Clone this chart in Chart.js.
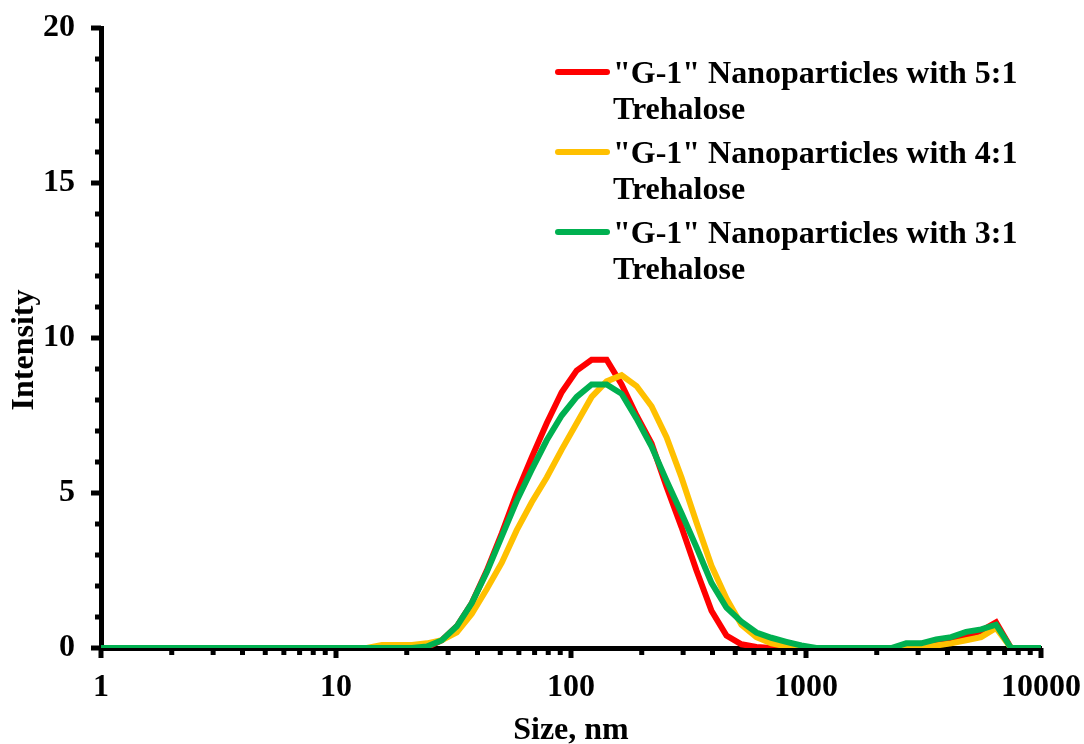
<!DOCTYPE html>
<html>
<head>
<meta charset="utf-8">
<script src="https://cdn.jsdelivr.net/npm/chart.js@4/dist/chart.umd.min.js"></script>
<style>
  html, body { margin: 0; padding: 0; background: #fff; }
  #wrap { position: relative; width: 1084px; height: 744px; overflow: hidden; }
  #legend { position: absolute; left: 555px; top: 54px; font-family: "Liberation Serif", "Times New Roman", serif; font-weight: bold; font-size: 32px; line-height: 36px; color: #000; }
  .item { display: flex; align-items: flex-start; margin-bottom: 8px; }
  .swatch { width: 55px; height: 6px; border-radius: 3px; margin-top: 15px; margin-right: 3px; flex: none; }
  .txt { width: 425px; }
</style>
</head>
<body>
<div id="wrap">
  <canvas id="c" width="1084" height="744"></canvas>
  <div id="legend"></div>
</div>
<script>
// ---- data ----
const sizes = [0.9649, 1.117, 1.294, 1.499, 1.736, 2.01, 2.328, 2.696, 3.122, 3.615, 4.187, 4.849, 5.615, 6.503, 7.531, 8.721,
  10.1, 11.7, 13.54, 15.69, 18.17, 21.04, 24.36, 28.21, 32.67, 37.84, 43.82, 50.75, 58.77, 68.06, 78.82, 91.28,
  105.7, 122.4, 141.8, 164.2, 190.1, 220.2, 255.0, 295.3, 342.0, 396.1, 458.7, 531.2, 615.1, 712.4, 825.0, 955.4,
  1106, 1281, 1484, 1718, 1990, 2305, 2669, 3091, 3580, 4145, 4801, 5560, 6439, 7456, 8635, 10000];

const red5to1 = [0,0,0,0,0,0,0,0,0,0,0,0,0,0,0,0,
  0,0,0,0,0,0,0.02,0.25,0.7,1.45,2.5,3.7,5.0,6.15,7.25,8.25,
  8.95,9.3,9.3,8.5,7.5,6.6,5.2,3.9,2.5,1.2,0.4,0.12,0.03,0,0,0,
  0,0,0,0,0,0,0,0.05,0.15,0.25,0.4,0.55,0.83,0,0,0];

const orange4to1 = [0,0,0,0,0,0,0,0,0,0,0,0,0,0,0,0,
  0,0,0,0.1,0.1,0.1,0.15,0.25,0.5,1.1,1.9,2.75,3.8,4.7,5.5,6.4,
  7.25,8.1,8.6,8.8,8.45,7.8,6.8,5.5,4.05,2.65,1.6,0.75,0.35,0.15,0.05,0,
  0,0,0,0,0,0,0,0.02,0.08,0.15,0.25,0.35,0.65,0,0,0];

const green3to1 = [0,0,0,0,0,0,0,0,0,0,0,0,0,0,0,0,
  0,0,0,0,0,0,0.05,0.25,0.7,1.45,2.45,3.6,4.75,5.75,6.7,7.5,
  8.1,8.5,8.5,8.2,7.4,6.5,5.4,4.35,3.25,2.1,1.3,0.85,0.5,0.33,0.2,0.08,
  0,0,0,0,0,0,0.15,0.15,0.28,0.35,0.52,0.6,0.75,0,0,0];

const seriesLabels = ['"G-1" Nanoparticles with 5:1 Trehalose', '"G-1" Nanoparticles with 4:1 Trehalose', '"G-1" Nanoparticles with 3:1 Trehalose'];
const seriesColors = ['#FF0000', '#FFC000', '#00B050'];
const xTickValues = [1, 10, 100, 1000, 10000];
const xTickLabels = ['1', '10', '100', '1000', '10000'];
const yTickValues = [0, 5, 10, 15, 20];

const FONT = "'Liberation Serif', 'Times New Roman', serif";

function pts(vals) { return sizes.map((s, i) => ({ x: s, y: vals[i] })); }

const allSeries = [red5to1, orange4to1, green3to1];
const datasets = allSeries.map((v, i) => ({
  label: seriesLabels[i],
  data: pts(v),
  borderColor: seriesColors[i],
  backgroundColor: seriesColors[i],
  borderWidth: 6,
  pointRadius: 0,
  tension: 0,
  fill: false,
  order: 3 - i
}));

// draws major/minor tick marks through the chart's scales
const tickMarks = {
  id: 'tickMarks',
  afterDraw(chart) {
    const ctx = chart.ctx, xs = chart.scales.x, ys = chart.scales.y;
    const ca = chart.chartArea;
    ctx.save();
    ctx.strokeStyle = '#000';
    ctx.lineWidth = 5;
    ctx.lineCap = 'butt';
    for (let d = 0; d <= 4; d++) {
      for (let m = 1; m <= 9; m++) {
        const v = m * Math.pow(10, d);
        if (v > 10000) break;
        const px = xs.getPixelForValue(v);
        const len = (m === 1) ? 10 : 7;
        ctx.beginPath();
        ctx.moveTo(px, ca.bottom);
        ctx.lineTo(px, ca.bottom + len);
        ctx.stroke();
      }
    }
    for (let v = 0; v <= 20; v++) {
      const py = ys.getPixelForValue(v);
      const len = (v % 5 === 0) ? 10 : 6;
      ctx.beginPath();
      ctx.moveTo(ca.left, py);
      ctx.lineTo(ca.left - len, py);
      ctx.stroke();
    }
    ctx.restore();
  }
};

new Chart(document.getElementById('c'), {
  type: 'line',
  data: { datasets },
  plugins: [tickMarks],
  options: {
    responsive: false,
    animation: false,
    devicePixelRatio: 1,
    layout: { padding: { left: 0, right: 43, top: 28, bottom: 0 } },
    plugins: { legend: { display: false }, tooltip: { enabled: false } },
    scales: {
      x: {
        type: 'logarithmic',
        min: 1, max: 10000,
        afterFit(s) { s.height = 96; s.paddingLeft = 0; s.paddingRight = 0; },
        afterBuildTicks(s) { s.ticks = xTickValues.map(v => ({ value: v, major: true })); },
        grid: { display: false, drawTicks: false },
        border: { display: true, color: '#000', width: 5 },
        ticks: {
          autoSkip: false, maxRotation: 0, padding: 21, color: '#000',
          font: { family: FONT, size: 32, weight: 'bold' },
          callback: (v) => { const i = xTickValues.indexOf(v); return i >= 0 ? xTickLabels[i] : ''; }
        },
        title: { display: true, text: 'Size, nm', color: '#000', padding: { top: 0, bottom: -6 },
          font: { family: FONT, size: 32, weight: 'bold' } }
      },
      y: {
        type: 'linear',
        min: 0, max: 20,
        afterFit(s) { s.width = 101; s.paddingTop = 0; s.paddingBottom = 0; },
        afterBuildTicks(s) { s.ticks = yTickValues.map(v => ({ value: v })); },
        grid: { display: false, drawTicks: false },
        border: { display: true, color: '#000', width: 5 },
        ticks: { padding: 26, color: '#000', font: { family: FONT, size: 32, weight: 'bold' } },
        title: { display: true, text: 'Intensity   ', color: '#000', padding: { top: 6, bottom: 0 },
          font: { family: FONT, size: 32, weight: 'bold' } }
      }
    }
  }
});

const lg = document.getElementById('legend');
seriesLabels.forEach((t, i) => {
  const it = document.createElement('div'); it.className = 'item';
  const sw = document.createElement('div'); sw.className = 'swatch'; sw.style.background = seriesColors[i];
  const tx = document.createElement('div'); tx.className = 'txt'; tx.textContent = t;
  it.appendChild(sw); it.appendChild(tx); lg.appendChild(it);
});
</script>
</body>
</html>
